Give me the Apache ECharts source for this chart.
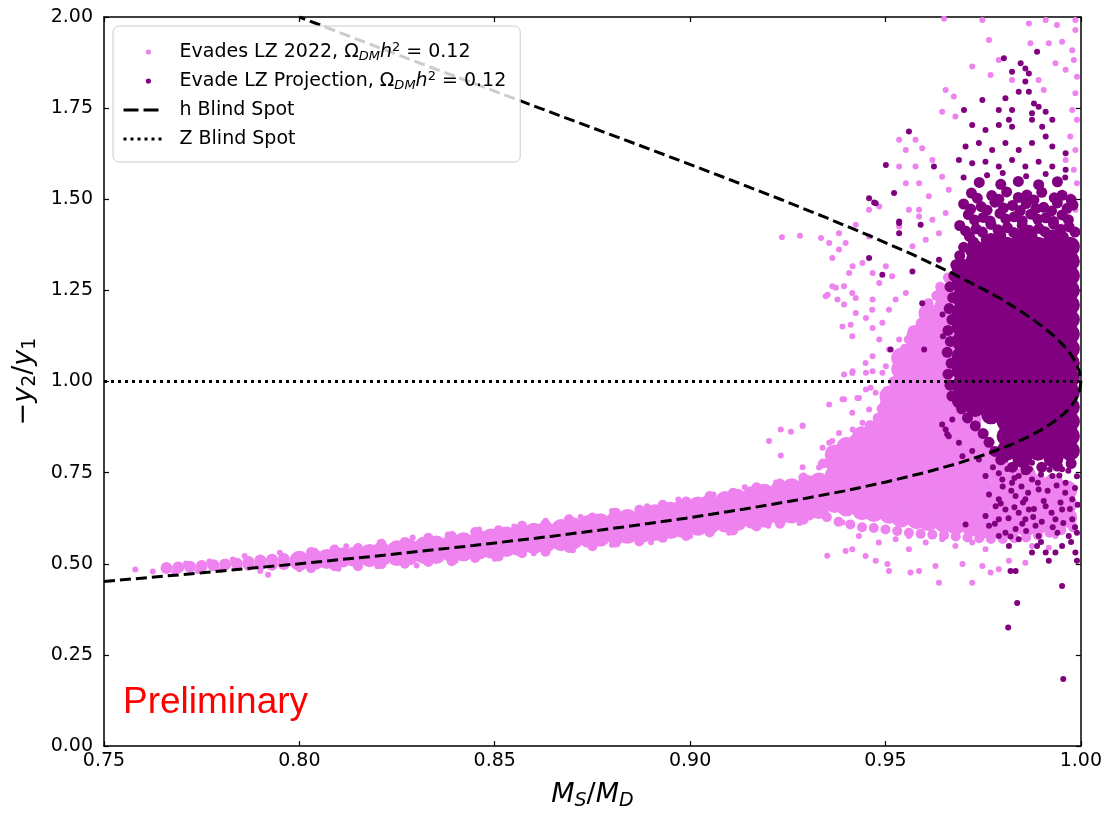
<!DOCTYPE html>
<html>
<head>
<meta charset="utf-8">
<title>Blind spots</title>
<script src="https://cdn.jsdelivr.net/npm/echarts/dist/echarts.min.js"></script>
<style>
html, body { margin: 0; padding: 0; background: #fff; }
#chartmain { width: 1105px; height: 816px; }
</style>
</head>
<body>
<div id="chartmain"></div>
<script>
// axis ticks
var xTicks = [0.75, 0.80, 0.85, 0.90, 0.95, 1.00];
var yTicks = [0.00, 0.25, 0.50, 0.75, 1.00, 1.25, 1.50, 1.75, 2.00];

// h blind spot curve (x = M_S/M_D, y = -y2/y1)
var hBlindSpot = [
	[0.750, 0.4515], [0.7751, 0.475], [0.800, 0.500], [0.8231, 0.525], [0.8445, 0.550], [0.8643, 0.575],
	[0.8824, 0.600], [0.8989, 0.625], [0.9139, 0.650], [0.9274, 0.675], [0.9396, 0.700], [0.9504, 0.725],
	[0.9600, 0.750], [0.9684, 0.775], [0.9756, 0.800], [0.9818, 0.825], [0.9869, 0.850], [0.9911, 0.875],
	[0.9945, 0.900], [0.9970, 0.925], [0.9987, 0.950], [0.9997, 0.975], [1.000, 1.000], [0.9997, 1.025],
	[0.9988, 1.050], [0.9974, 1.075], [0.9955, 1.100], [0.9931, 1.125], [0.9903, 1.150], [0.9871, 1.175],
	[0.9836, 1.200], [0.9798, 1.225], [0.9756, 1.250], [0.9665, 1.300], [0.9566, 1.350], [0.9459, 1.400],
	[0.9347, 1.450], [0.9231, 1.500], [0.9111, 1.550], [0.8989, 1.600], [0.8865, 1.650], [0.8740, 1.700],
	[0.8615, 1.750], [0.8491, 1.800], [0.8366, 1.850], [0.8243, 1.900], [0.8121, 1.950], [0.800, 2.000]
];
var zBlindSpot = [[0.75, 1.0], [1.0, 1.0]];

// Evades LZ 2022: thin start of the band
var pinkBand = [
	[0.766, 0.488], [0.769, 0.490], [0.772, 0.492], [0.775, 0.494], [0.778, 0.496], [0.781, 0.498], [0.784, 0.500],
	[0.787, 0.497], [0.787, 0.505], [0.790, 0.497], [0.790, 0.509], [0.793, 0.497], [0.793, 0.511], [0.796, 0.499], [0.796, 0.513]
];
// Evades LZ 2022: dense band and cloud
var pinkBlob = [
	[0.800, 0.508], [0.804, 0.511], [0.807, 0.513], [0.811, 0.517], [0.814, 0.519],
	[0.818, 0.518], [0.818, 0.527], [0.821, 0.520], [0.821, 0.532], [0.825, 0.521], [0.825, 0.537], [0.828, 0.523], [0.828, 0.541],
	[0.832, 0.526], [0.832, 0.547], [0.835, 0.527], [0.835, 0.550], [0.839, 0.531], [0.839, 0.555], [0.842, 0.534], [0.842, 0.559],
	[0.846, 0.539], [0.846, 0.565], [0.849, 0.542], [0.849, 0.569], [0.853, 0.546], [0.853, 0.575], [0.856, 0.549], [0.856, 0.579],
	[0.860, 0.554], [0.860, 0.585], [0.863, 0.557], [0.863, 0.589], [0.867, 0.562], [0.867, 0.595], [0.870, 0.566], [0.870, 0.600],
	[0.874, 0.571], [0.874, 0.606], [0.877, 0.574], [0.877, 0.611], [0.881, 0.579], [0.881, 0.617],
	[0.884, 0.582], [0.884, 0.602], [0.884, 0.623], [0.888, 0.586], [0.888, 0.608], [0.888, 0.630],
	[0.891, 0.590], [0.891, 0.613], [0.891, 0.636], [0.895, 0.595], [0.895, 0.619], [0.895, 0.643],
	[0.898, 0.599], [0.898, 0.624], [0.898, 0.649], [0.902, 0.604], [0.902, 0.630], [0.902, 0.657],
	[0.905, 0.607], [0.905, 0.635], [0.905, 0.663], [0.909, 0.613], [0.909, 0.642], [0.909, 0.672],
	[0.912, 0.617], [0.912, 0.647], [0.912, 0.678], [0.916, 0.623], [0.916, 0.654], [0.916, 0.686],
	[0.919, 0.627], [0.919, 0.659], [0.919, 0.692], [0.923, 0.634], [0.923, 0.667], [0.923, 0.701],
	[0.926, 0.638], [0.926, 0.672], [0.926, 0.707], [0.930, 0.645], [0.930, 0.680], [0.930, 0.716],
	[0.933, 0.650], [0.933, 0.686], [0.933, 0.723],
	[0.937, 0.667], [0.937, 0.704], [0.937, 0.741], [0.937, 0.778], [0.937, 0.800],
	[0.940, 0.657], [0.940, 0.694], [0.940, 0.731], [0.940, 0.768], [0.940, 0.805], [0.940, 0.820],
	[0.944, 0.647], [0.944, 0.684], [0.944, 0.721], [0.944, 0.758], [0.944, 0.795], [0.944, 0.832], [0.944, 0.850],
	[0.947, 0.642], [0.947, 0.679], [0.947, 0.716], [0.947, 0.753], [0.947, 0.790], [0.947, 0.827], [0.947, 0.866],
	[0.951, 0.637], [0.951, 0.674], [0.951, 0.711], [0.951, 0.748], [0.951, 0.785], [0.951, 0.822], [0.951, 0.859],
	[0.951, 0.896], [0.951, 0.933], [0.951, 0.960],
	[0.954, 0.627], [0.954, 0.664], [0.954, 0.701], [0.954, 0.738], [0.954, 0.775], [0.954, 0.812], [0.954, 0.849],
	[0.954, 0.886], [0.954, 0.923], [0.954, 0.960], [0.954, 0.997], [0.954, 1.034], [0.954, 1.065],
	[0.958, 0.622], [0.958, 0.659], [0.958, 0.696], [0.958, 0.733], [0.958, 0.770], [0.958, 0.807], [0.958, 0.844],
	[0.958, 0.881], [0.958, 0.918], [0.958, 0.955], [0.958, 0.992], [0.958, 1.029], [0.958, 1.066], [0.958, 1.100], [0.958, 1.128],
	[0.961, 0.617], [0.961, 0.654], [0.961, 0.691], [0.961, 0.728], [0.961, 0.765], [0.961, 0.802], [0.961, 0.839],
	[0.961, 0.876], [0.961, 0.913], [0.961, 0.950], [0.961, 0.987], [0.961, 1.024], [0.961, 1.061], [0.961, 1.098],
	[0.961, 1.135], [0.961, 1.165], [0.961, 1.188],
	[0.965, 0.612], [0.965, 0.649], [0.965, 0.686], [0.965, 0.723], [0.965, 0.760], [0.965, 0.797], [0.965, 0.834],
	[0.965, 0.871], [0.965, 0.908], [0.965, 0.945], [0.965, 0.982], [0.965, 1.019], [0.965, 1.056], [0.965, 1.093],
	[0.965, 1.130], [0.965, 1.167], [0.965, 1.204], [0.965, 1.236],
	[0.968, 0.607], [0.968, 0.644], [0.968, 0.681], [0.968, 0.718], [0.968, 0.755], [0.968, 0.792], [0.968, 0.829],
	[0.968, 0.866], [0.968, 0.903], [0.968, 0.940], [0.968, 0.977],
	[0.972, 0.602], [0.972, 0.639], [0.972, 0.676], [0.972, 0.713], [0.972, 0.750], [0.972, 0.787], [0.972, 0.824], [0.972, 0.861], [0.972, 0.893],
	[0.975, 0.597], [0.975, 0.634], [0.975, 0.671], [0.975, 0.708], [0.975, 0.745], [0.975, 0.782], [0.975, 0.819],
	[0.979, 0.597], [0.979, 0.634], [0.979, 0.671], [0.979, 0.708], [0.979, 0.745], [0.979, 0.775],
	[0.982, 0.597], [0.982, 0.634], [0.982, 0.671], [0.982, 0.708], [0.982, 0.745],
	[0.986, 0.602], [0.986, 0.639], [0.986, 0.676], [0.986, 0.713], [0.986, 0.743],
	[0.989, 0.607], [0.989, 0.644], [0.989, 0.681], [0.989, 0.718],
	[0.993, 0.617], [0.993, 0.654], [0.993, 0.691], [0.993, 0.720],
	[0.9965, 0.627], [0.9965, 0.664], [0.9965, 0.701]
];
// Evades LZ 2022: ragged rim of the dense area
var pinkRim = [
	[0.803, 0.532], [0.809, 0.539], [0.815, 0.543], [0.821, 0.555], [0.827, 0.560], [0.833, 0.571], [0.839, 0.576],
	[0.845, 0.587], [0.851, 0.592], [0.857, 0.604], [0.863, 0.609], [0.869, 0.622], [0.875, 0.627], [0.881, 0.640],
	[0.887, 0.648], [0.893, 0.662], [0.899, 0.671], [0.905, 0.686], [0.911, 0.695], [0.917, 0.710], [0.923, 0.720], [0.929, 0.736],
	[0.803, 0.488], [0.809, 0.493], [0.815, 0.493], [0.821, 0.499], [0.827, 0.500], [0.833, 0.505], [0.839, 0.507],
	[0.845, 0.516], [0.851, 0.520], [0.857, 0.529], [0.863, 0.533], [0.869, 0.543], [0.875, 0.548], [0.881, 0.558],
	[0.887, 0.561], [0.893, 0.571], [0.899, 0.576], [0.905, 0.586], [0.911, 0.591], [0.917, 0.602], [0.923, 0.610], [0.929, 0.621],
	[0.934, 0.775], [0.937, 0.800], [0.939, 0.822], [0.942, 0.840], [0.944, 0.862], [0.946, 0.880], [0.948, 0.900],
	[0.949, 0.925], [0.950, 0.950], [0.951, 0.975], [0.952, 1.000], [0.953, 1.030], [0.953, 1.060], [0.955, 1.090],
	[0.956, 1.115], [0.957, 1.140], [0.959, 1.160], [0.960, 1.190], [0.961, 1.215], [0.963, 1.235], [0.964, 1.260], [0.966, 1.285],
	[0.935, 0.628], [0.938, 0.615], [0.941, 0.608], [0.944, 0.600], [0.947, 0.598], [0.950, 0.594], [0.953, 0.590],
	[0.956, 0.585], [0.959, 0.582], [0.962, 0.580], [0.965, 0.578], [0.968, 0.575], [0.971, 0.572], [0.974, 0.570],
	[0.977, 0.568], [0.980, 0.568], [0.983, 0.570], [0.986, 0.572], [0.989, 0.578], [0.992, 0.585], [0.995, 0.592], [0.998, 0.600]
];
// Evades LZ 2022: single points
var pinkDots = [
	[0.758, 0.484], [0.7625, 0.479], [0.7655, 0.494], [0.768, 0.476], [0.771, 0.501], [0.774, 0.480], [0.777, 0.506],
	[0.780, 0.483], [0.792, 0.470], [0.783, 0.512],
	[0.786, 0.521], [0.795, 0.530], [0.804, 0.536], [0.812, 0.548], [0.821, 0.557], [0.829, 0.572], [0.838, 0.580],
	[0.846, 0.594], [0.855, 0.602], [0.863, 0.618], [0.872, 0.628], [0.880, 0.645], [0.889, 0.658], [0.897, 0.676],
	[0.906, 0.690], [0.914, 0.710], [0.922, 0.723], [0.929, 0.742],
	[0.790, 0.480], [0.800, 0.485], [0.810, 0.486], [0.820, 0.493], [0.830, 0.495], [0.840, 0.508], [0.850, 0.514],
	[0.860, 0.529], [0.870, 0.537], [0.880, 0.552], [0.890, 0.559], [0.900, 0.576], [0.910, 0.585], [0.920, 0.604], [0.928, 0.612],
	[0.9235, 1.396], [0.9281, 1.400], [0.9335, 1.394], [0.9356, 1.380], [0.9381, 1.362], [0.9364, 1.339], [0.9398, 1.380],
	[0.9424, 1.430], [0.9458, 1.398], [0.9381, 1.407], [0.9352, 1.238], [0.9373, 1.257], [0.9394, 1.261], [0.9377, 1.225],
	[0.9424, 1.229], [0.9394, 1.211], [0.9416, 1.316], [0.9441, 1.325], [0.9467, 1.298], [0.9484, 1.270], [0.9501, 1.316],
	[0.9517, 1.289], [0.9467, 1.225], [0.9450, 1.174], [0.9411, 1.156], [0.9467, 1.147], [0.9492, 1.161], [0.9509, 1.197],
	[0.9526, 1.225], [0.9552, 1.243], [0.9484, 1.115], [0.9509, 1.088], [0.9535, 1.115], [0.9552, 1.069], [0.9526, 1.060],
	[0.9501, 1.042], [0.9467, 1.069], [0.9394, 1.019], [0.9416, 1.028], [0.9450, 1.024], [0.9467, 1.028], [0.9492, 1.024],
	[0.9356, 0.937], [0.9394, 0.951], [0.9428, 0.955], [0.9450, 0.978], [0.9475, 0.969], [0.9458, 0.923], [0.9488, 0.914],
	[0.9232, 0.868], [0.9258, 0.862], [0.9288, 0.879], [0.9202, 0.837], [0.9232, 0.797], [0.9288, 0.765], [0.9356, 0.832],
	[0.9339, 0.818], [0.9381, 0.859], [0.9416, 0.868], [0.9441, 0.887], [0.9398, 0.818], [0.9569, 1.371], [0.9603, 1.389],
	[0.9637, 1.407], [0.9620, 1.444], [0.9654, 1.462], [0.9586, 1.471], [0.9407, 1.298], [0.9364, 1.261], [0.9347, 1.234],
	[0.9415, 1.243], [0.9466, 1.197], [0.9424, 1.188], [0.9390, 1.151], [0.9415, 1.124], [0.9449, 1.051], [0.9415, 1.023],
	[0.9650, 1.995], [0.9748, 1.992], [0.9867, 1.982], [0.9910, 1.992], [0.9939, 1.978], [0.9986, 1.992], [0.9986, 1.964],
	[0.9765, 1.937], [0.9871, 1.928], [0.9918, 1.928], [0.9952, 1.932], [0.9978, 1.909], [0.9722, 1.864], [0.9790, 1.882],
	[0.9769, 1.841], [0.9824, 1.827], [0.9892, 1.827], [0.9905, 1.800], [0.9935, 1.873], [0.9961, 1.855], [0.9982, 1.882],
	[0.9990, 1.836], [0.9654, 1.800], [0.9675, 1.782], [0.9645, 1.740], [0.9679, 1.727], [0.9535, 1.663], [0.9577, 1.663],
	[0.9552, 1.635], [0.9594, 1.640], [0.9620, 1.608], [0.9577, 1.590], [0.9535, 1.590], [0.9552, 1.544], [0.9586, 1.544],
	[0.9645, 1.562], [0.9662, 1.526], [0.9611, 1.508], [0.9560, 1.471], [0.9586, 1.453], [0.9535, 1.425], [0.9484, 1.480],
	[0.9458, 1.471],
	[0.9986, 1.791], [0.9978, 1.745], [0.9990, 1.718], [0.9973, 1.672], [0.9986, 1.635], [0.9961, 1.608], [0.9982, 1.581],
	[0.9990, 1.544], [0.9973, 1.508], [0.9986, 1.471], [0.9961, 1.453], [0.9952, 1.425],
	[0.9351, 0.522], [0.9398, 0.535], [0.9415, 0.540], [0.9449, 0.521], [0.9475, 0.508], [0.9509, 0.480], [0.9505, 0.499],
	[0.9560, 0.540], [0.9586, 0.480], [0.9564, 0.476], [0.9628, 0.494], [0.9637, 0.448], [0.9697, 0.499], [0.9722, 0.448],
	[0.9748, 0.494], [0.9769, 0.476], [0.9790, 0.485], [0.9816, 0.508], [0.9858, 0.503], [0.9875, 0.549], [0.9918, 0.544],
	[0.9935, 0.576], [0.9952, 0.590], [0.9288, 0.878], [0.9390, 0.951], [0.9432, 0.955], [0.9462, 0.983], [0.9501, 0.978],
	[0.9526, 0.951], [0.9415, 0.914], [0.9364, 0.837], [0.9330, 0.764], [0.9390, 0.613],
	[0.9432, 0.576], [0.9483, 0.558], [0.9526, 0.567], [0.9560, 0.576], [0.9603, 0.558], [0.9645, 0.567], [0.9679, 0.549],
	[0.9722, 0.558], [0.9756, 0.540]
];
// Evade LZ Projection: dense core
var purpleCore = [
	[0.9695, 0.95], [0.9695, 0.99], [0.9695, 1.03], [0.9695, 1.07], [0.9695, 1.11], [0.9695, 1.15], [0.9695, 1.19],
	[0.9695, 1.23], [0.9695, 1.27], [0.9695, 1.31],
	[0.973, 0.93], [0.973, 0.97], [0.973, 1.01], [0.973, 1.05], [0.973, 1.09], [0.973, 1.13], [0.973, 1.17], [0.973, 1.21],
	[0.973, 1.25], [0.973, 1.29], [0.973, 1.33], [0.973, 1.36],
	[0.977, 0.91], [0.977, 0.95], [0.977, 0.99], [0.977, 1.03], [0.977, 1.07], [0.977, 1.11], [0.977, 1.15], [0.977, 1.19],
	[0.977, 1.23], [0.977, 1.27], [0.977, 1.31], [0.977, 1.35], [0.977, 1.38],
	[0.981, 0.81], [0.981, 0.85], [0.981, 0.89], [0.981, 0.93], [0.981, 0.97], [0.981, 1.01], [0.981, 1.05], [0.981, 1.09],
	[0.981, 1.13], [0.981, 1.17], [0.981, 1.21], [0.981, 1.25], [0.981, 1.29], [0.981, 1.33], [0.981, 1.37],
	[0.985, 0.79], [0.985, 0.83], [0.985, 0.87], [0.985, 0.91], [0.985, 0.95], [0.985, 0.99], [0.985, 1.03], [0.985, 1.07],
	[0.985, 1.11], [0.985, 1.15], [0.985, 1.19], [0.985, 1.23], [0.985, 1.27], [0.985, 1.31], [0.985, 1.35], [0.985, 1.39],
	[0.989, 0.81], [0.989, 0.85], [0.989, 0.89], [0.989, 0.93], [0.989, 0.97], [0.989, 1.01], [0.989, 1.05], [0.989, 1.09],
	[0.989, 1.13], [0.989, 1.17], [0.989, 1.21], [0.989, 1.25], [0.989, 1.29], [0.989, 1.33], [0.989, 1.37],
	[0.993, 0.79], [0.993, 0.83], [0.993, 0.87], [0.993, 0.91], [0.993, 0.95], [0.993, 0.99], [0.993, 1.03], [0.993, 1.07],
	[0.993, 1.11], [0.993, 1.15], [0.993, 1.19], [0.993, 1.23], [0.993, 1.27], [0.993, 1.31], [0.993, 1.35], [0.993, 1.39],
	[0.9972, 0.81], [0.9972, 0.85], [0.9972, 0.89], [0.9972, 0.93], [0.9972, 0.97], [0.9972, 1.01], [0.9972, 1.05],
	[0.9972, 1.09], [0.9972, 1.13], [0.9972, 1.17], [0.9972, 1.21], [0.9972, 1.25], [0.9972, 1.29], [0.9972, 1.33], [0.9972, 1.37]
];
// Evade LZ Projection: rim of the core, thinning out above it
var purpleRim = [
	[0.970, 1.368], [0.9742, 1.361], [0.978, 1.371], [0.9823, 1.362], [0.986, 1.369], [0.9902, 1.360], [0.994, 1.370], [0.998, 1.364],
	[0.9725, 1.383], [0.9765, 1.386], [0.9805, 1.380], [0.9848, 1.388], [0.9885, 1.382], [0.9928, 1.387], [0.9965, 1.381],
	[0.9715, 1.398], [0.9758, 1.390], [0.9795, 1.401], [0.9838, 1.392], [0.9875, 1.400], [0.9918, 1.389], [0.9955, 1.397],
	[0.9705, 1.413], [0.9748, 1.410], [0.9788, 1.416], [0.9828, 1.409], [0.9868, 1.415], [0.9908, 1.411], [0.9948, 1.417], [0.9985, 1.410],
	[0.969, 1.428], [0.9732, 1.419], [0.977, 1.431], [0.9812, 1.422], [0.985, 1.428], [0.9893, 1.420], [0.993, 1.432], [0.997, 1.424],
	[0.9728, 1.443], [0.9768, 1.440], [0.9808, 1.446], [0.9850, 1.441], [0.9890, 1.445], [0.9930, 1.439], [0.9968, 1.444],
	[0.9712, 1.458], [0.975, 1.450], [0.9793, 1.461], [0.983, 1.452], [0.9872, 1.459], [0.991, 1.449], [0.9952, 1.457],
	[0.9718, 1.473], [0.9760, 1.470], [0.9802, 1.476], [0.9845, 1.469], [0.9885, 1.474], [0.9925, 1.468], [0.9965, 1.475],
	[0.970, 1.487], [0.9745, 1.480], [0.978, 1.492], [0.9825, 1.483], [0.986, 1.488], [0.9905, 1.478], [0.994, 1.490], [0.998, 1.484],
	[0.9735, 1.503], [0.9790, 1.500], [0.9840, 1.505], [0.9880, 1.498], [0.9932, 1.504], [0.9975, 1.499],
	[0.972, 1.517], [0.9772, 1.510], [0.981, 1.520], [0.9862, 1.512], [0.990, 1.519], [0.9952, 1.511],
	[0.974, 1.546], [0.9795, 1.541], [0.984, 1.549], [0.9892, 1.540], [0.994, 1.548],
	[0.9670, 0.960], [0.9665, 0.990], [0.9660, 1.020], [0.9668, 1.050], [0.9658, 1.080], [0.9666, 1.110], [0.9660, 1.140],
	[0.9670, 1.170], [0.9663, 1.200], [0.9672, 1.230], [0.9665, 1.260], [0.9675, 1.290], [0.9680, 1.320], [0.9690, 1.345],
	[0.9695, 0.925], [0.9710, 0.900], [0.9730, 0.878], [0.9750, 0.857], [0.9765, 0.833], [0.9780, 0.808], [0.9795, 0.785],
	[0.9825, 0.765], [0.9860, 0.758], [0.9900, 0.765], [0.9940, 0.768], [0.9975, 0.775]
];
// Evade LZ Projection: single points
var purpleDots = [
	[0.9888, 1.905], [0.9803, 1.887], [0.9846, 1.873], [0.9858, 1.859], [0.9824, 1.850], [0.9867, 1.845], [0.9858, 1.823],
	[0.9841, 1.795], [0.9867, 1.795], [0.9807, 1.777], [0.9880, 1.763], [0.9892, 1.754], [0.9748, 1.772], [0.9790, 1.745],
	[0.9824, 1.745], [0.9701, 1.745], [0.9927, 1.718], [0.9910, 1.740], [0.9875, 1.736], [0.9722, 1.704], [0.9756, 1.690],
	[0.9790, 1.704], [0.9816, 1.718], [0.9824, 1.699], [0.9875, 1.718], [0.9901, 1.699], [0.9910, 1.672], [0.9560, 1.686],
	[0.9501, 1.594], [0.9624, 1.590], [0.9458, 1.503], [0.9475, 1.489], [0.9522, 1.517], [0.9535, 1.439], [0.9458, 1.339],
	[0.9492, 1.293],
	[0.9705, 1.645], [0.9739, 1.654], [0.9773, 1.635], [0.9807, 1.654], [0.9841, 1.635], [0.9875, 1.654], [0.9927, 1.645],
	[0.9961, 1.626], [0.9688, 1.608], [0.9722, 1.599], [0.9756, 1.603], [0.9790, 1.590], [0.9824, 1.608], [0.9858, 1.590],
	[0.9892, 1.603], [0.9927, 1.590], [0.9961, 1.581],
	[0.976, 1.566], [0.980, 1.572], [0.986, 1.563], [0.991, 1.569], [0.970, 1.560], [0.996, 1.560],
	[0.9471, 1.491], [0.9535, 1.435], [0.9535, 1.407], [0.9590, 1.430], [0.9569, 1.302], [0.9637, 1.334], [0.9594, 1.215],
	[0.9646, 1.184], [0.9513, 1.088], [0.9599, 1.088], [0.9647, 1.124], [0.9654, 0.868], [0.9662, 0.850], [0.9671, 0.896],
	[0.9645, 0.882], [0.9658, 0.855], [0.9688, 0.832], [0.9697, 0.795], [0.9722, 0.809], [0.9739, 0.786], [0.9756, 0.741],
	[0.9765, 0.690], [0.9782, 0.658], [0.9790, 0.677], [0.9756, 0.631], [0.9705, 0.608], [0.9765, 0.604], [0.9790, 0.576],
	[0.9807, 0.585], [0.9816, 0.549], [0.9841, 0.567], [0.9833, 0.595], [0.9858, 0.622], [0.9867, 0.649], [0.9884, 0.604],
	[0.9892, 0.576], [0.9910, 0.531], [0.9918, 0.508], [0.9935, 0.531], [0.9952, 0.549], [0.9969, 0.576], [0.9986, 0.531],
	[0.9990, 0.508], [0.9833, 0.480], [0.9820, 0.480], [0.9875, 0.531], [0.9888, 0.549], [0.9799, 0.731], [0.9824, 0.722],
	[0.9841, 0.741], [0.9875, 0.731], [0.9892, 0.704], [0.9927, 0.741], [0.9952, 0.759], [0.9961, 0.722], [0.9978, 0.677],
	[0.9952, 0.649], [0.9935, 0.622], [0.9910, 0.658], [0.9858, 0.677], [0.9833, 0.686], [0.9807, 0.786], [0.9875, 0.777],
	[0.9910, 0.795], [0.9944, 0.823], [0.9978, 0.622], [0.9990, 0.585], [0.9790, 0.622], [0.9807, 0.649], [0.9841, 0.640],
	[0.9775, 0.765], [0.9790, 0.748], [0.9812, 0.760], [0.9830, 0.735], [0.9855, 0.752], [0.9870, 0.760], [0.9898, 0.745],
	[0.9920, 0.758], [0.9945, 0.742], [0.9968, 0.755], [0.9990, 0.740], [0.9800, 0.712], [0.9822, 0.700], [0.9848, 0.712],
	[0.9865, 0.695], [0.9890, 0.722], [0.9915, 0.700], [0.9938, 0.715], [0.9960, 0.695], [0.9985, 0.708], [0.9795, 0.665],
	[0.9830, 0.655], [0.9852, 0.668], [0.9880, 0.650], [0.9905, 0.672], [0.9925, 0.640], [0.9948, 0.668], [0.9972, 0.650],
	[0.9992, 0.662], [0.9780, 0.610], [0.9815, 0.625], [0.9850, 0.610], [0.9878, 0.628], [0.9900, 0.615], [0.9928, 0.600],
	[0.9955, 0.612], [0.9985, 0.600], [0.9820, 0.575], [0.9860, 0.590], [0.9898, 0.560], [0.9940, 0.585], [0.9975, 0.560],
	[0.9952, 0.439], [0.9837, 0.392], [0.9814, 0.325], [0.9955, 0.184]
];

var pinkName = 'Evades LZ 2022';
var purpleName = 'Evade LZ Projection';
var hName = 'h Blind Spot';
var zName = 'Z Blind Spot';
var legendText = {};
legendText[pinkName] = '{t|Evades LZ 2022, }{n|Ω}{sb|DM}{it|h}{sp|2}{n| = 0.12}';
legendText[purpleName] = '{t|Evade LZ Projection, }{n|Ω}{sb|DM}{it|h}{sp|2}{n| = 0.12}';
legendText[hName] = '{t|h Blind Spot}';
legendText[zName] = '{t|Z Blind Spot}';

var font = 'DejaVu Sans';
var dotIcon = 'path://M0,0L0,0M38,14L38,14M22.3,7A2.6,2.6,0,1,1,27.5,7A2.6,2.6,0,1,1,22.3,7Z';

function axisBase(min, max, interval, pos, showLabel) {
	return {
		type : 'value',
		position : pos,
		min : min,
		max : max,
		interval : interval,
		axisLine : { show : true, onZero : false, lineStyle : { color : '#000', width : 1.5 } },
		axisTick : { show : true, inside : true, length : 5, lineStyle : { color : '#000', width : 1.2 } },
		axisLabel : {
			show : showLabel,
			color : '#000',
			fontFamily : font,
			fontSize : 19,
			formatter : function(v) { return v.toFixed(2); }
		},
		splitLine : { show : false }
	};
}

var xMain = axisBase(xTicks[0], xTicks[xTicks.length - 1], 0.05, 'bottom', true);
xMain.axisLabel.margin = 6;
xMain.name = '{i|M}{s|S}{n|/}{i|M}{s|D}';
xMain.nameLocation = 'middle';
xMain.nameGap = 32;
xMain.nameTextStyle = {
	color : '#000', fontFamily : font, fontSize : 27,
	rich : {
		i : { fontFamily : font, fontSize : 27, fontStyle : 'italic', lineHeight : 33 },
		n : { fontFamily : font, fontSize : 27, lineHeight : 33 },
		s : { fontFamily : font, fontSize : 19, fontStyle : 'italic', lineHeight : 12, verticalAlign : 'bottom' }
	}
};
var xTop = axisBase(xTicks[0], xTicks[xTicks.length - 1], 0.05, 'top', false);

var yMain = axisBase(yTicks[0], yTicks[yTicks.length - 1], 0.25, 'left', true);
yMain.axisLabel.margin = 11;
yMain.name = '{n|−}{i|y}{s|2}{n|/}{i|y}{s|1}';
yMain.nameLocation = 'middle';
yMain.nameGap = 56;
yMain.nameTextStyle = {
	color : '#000', fontFamily : font, fontSize : 27,
	rich : {
		i : { fontFamily : font, fontSize : 27, fontStyle : 'italic', lineHeight : 32 },
		n : { fontFamily : font, fontSize : 27, lineHeight : 32 },
		s : { fontFamily : font, fontSize : 19, lineHeight : 12, verticalAlign : 'bottom' }
	}
};
var yRight = axisBase(yTicks[0], yTicks[yTicks.length - 1], 0.25, 'right', false);

function scatterSeries(name, data, size, color) {
	return {
		type : 'scatter',
		name : name,
		data : data,
		symbol : 'circle',
		symbolSize : size,
		itemStyle : { color : color, opacity : 1 },
		emphasis : { disabled : true },
		silent : true,
		z : 2
	};
}

var option = {
	animation : false,
	backgroundColor : '#fff',
	grid : { left : 104, right : 23, top : 17, bottom : 69, containLabel : false },
	xAxis : [ xMain, xTop ],
	yAxis : [ yMain, yRight ],
	legend : {
		left : 113,
		top : 26,
		orient : 'vertical',
		itemWidth : 38,
		itemHeight : 14,
		itemGap : 7,
		padding : [ 15, 14, 12, 9 ],
		backgroundColor : 'rgba(255,255,255,0.8)',
		borderColor : '#cccccc',
		borderWidth : 1,
		borderRadius : 6,
		selectedMode : false,
		z : 10,
		data : [
			{ name : pinkName, icon : dotIcon, itemStyle : { color : '#ee82ee' } },
			{ name : purpleName, icon : dotIcon, itemStyle : { color : '#800080' } },
			{ name : hName, itemStyle : { opacity : 0 }, lineStyle : { width : 3, type : [ 15, 5 ], color : '#000', opacity : 1 } },
			{ name : zName, itemStyle : { opacity : 0 }, lineStyle : { width : 3, type : [ 3, 4 ], color : '#000', opacity : 1 } }
		],
		formatter : function(name) {
			return legendText[name];
		},
		textStyle : {
			color : '#000',
			fontFamily : font,
			fontSize : 19,
			lineHeight : 22,
			rich : {
				t : { fontFamily : font, fontSize : 19, lineHeight : 22, padding : [ 0, 0, 0, 13 ] },
				n : { fontFamily : font, fontSize : 19, lineHeight : 22 },
				it : { fontFamily : font, fontSize : 19, fontStyle : 'italic', lineHeight : 22 },
				sb : { fontFamily : font, fontSize : 13, fontStyle : 'italic', lineHeight : 10, verticalAlign : 'bottom' },
				sp : { fontFamily : font, fontSize : 13, lineHeight : 10, verticalAlign : 'top' }
			}
		}
	},
	graphic : [ {
		type : 'text',
		left : 123,
		top : 684,
		z : 20,
		style : {
			text : 'Preliminary',
			fill : '#ff0000',
			font : '37px "Liberation Sans", Arial, sans-serif'
		}
	} ],
	series : [
		scatterSeries(pinkName, pinkBand, 12, '#ee82ee'),
		scatterSeries(pinkName, pinkBlob, 20, '#ee82ee'),
		scatterSeries(pinkName, pinkRim, 10, '#ee82ee'),
		scatterSeries(pinkName, pinkDots, 6, '#ee82ee'),
		scatterSeries(purpleName, purpleCore, 20, '#800080'),
		scatterSeries(purpleName, purpleRim, 11, '#800080'),
		scatterSeries(purpleName, purpleDots, 6, '#800080'),
		{
			type : 'line',
			name : hName,
			data : hBlindSpot,
			symbol : 'none',
			showSymbol : false,
			silent : true,
			z : 5,
			itemStyle : { color : '#000' },
			lineStyle : { color : '#000', width : 3, type : [ 11, 5 ] }
		}, {
			type : 'line',
			name : zName,
			data : zBlindSpot,
			symbol : 'none',
			showSymbol : false,
			silent : true,
			z : 5,
			itemStyle : { color : '#000' },
			lineStyle : { color : '#000', width : 3, type : [ 3, 4 ] }
		}
	]
};

var myChart = echarts.init(document.getElementById('chartmain'));
myChart.setOption(option);
</script>
</body>
</html>
